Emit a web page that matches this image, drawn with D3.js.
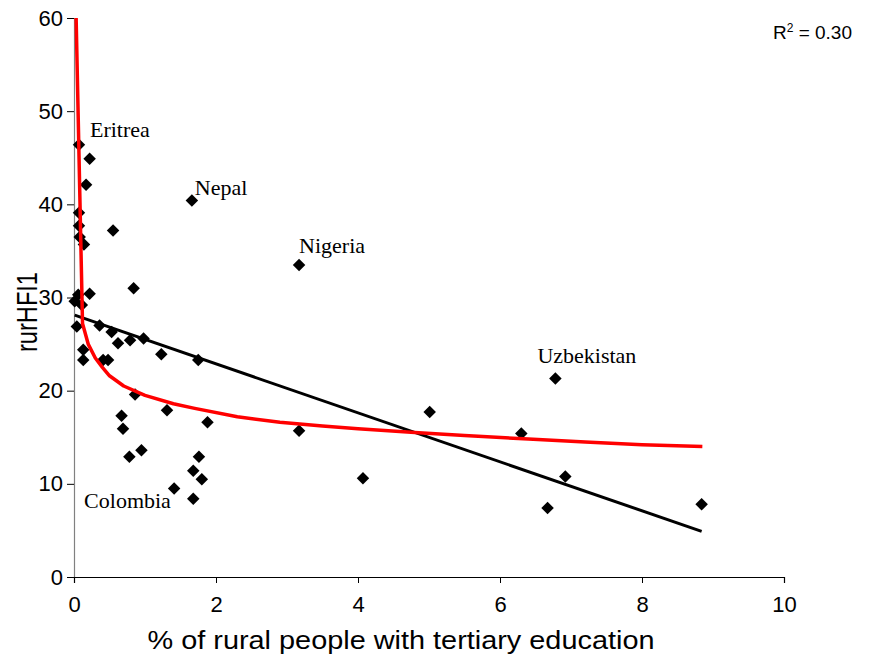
<!DOCTYPE html>
<html><head><meta charset="utf-8">
<script src="https://cdn.jsdelivr.net/npm/d3@7"></script>
<style>body{margin:0;background:#fff}svg{display:block}</style>
</head><body>
<svg id="chart" width="870" height="658"></svg>
<script>
// Data
const eduX = [0.07,0.22,0.17,0.07,0.07,0.08,0.14,0.55,1.66,3.17,0.84,0.22,0.06,0.01,0.11,0.04,0.36,0.53,0.62,0.79,0.98,1.23,1.75,0.13,0.13,0.41,0.48,0.86,1.31,0.67,0.69,1.88,0.78,0.95,1.76,1.68,1.80,1.41,1.68,3.17,4.07,5.01,6.30,6.78,6.92,6.67,8.84];
const hfiY = [46.4,44.9,42.1,39.1,37.7,36.5,35.7,37.2,40.4,33.5,31.0,30.4,30.3,29.6,29.2,26.9,27.0,26.3,25.1,25.4,25.6,23.9,23.3,24.4,23.3,23.3,23.3,19.6,17.9,17.3,15.9,16.6,12.9,13.6,12.9,11.4,10.5,9.5,8.4,15.7,10.6,17.7,15.4,21.3,10.8,7.4,7.8];
const labelNames = ["Eritrea","Nepal","Nigeria","Uzbekistan","Colombia"];
const labelX = [0.07,1.66,3.17,6.78,1.41];
const labelY = [46.4,40.4,33.5,21.3,9.5];
const linFitX = [0.01,8.84];
const linFitY = [28.1,4.9];
const powFitX = [0.03,0.12,0.2,0.3,0.4,0.5,0.7,1.0,1.4,1.7,2.3,2.9,3.5,4.0,4.8,5.5,6.4,7.2,8.0,8.85];
const powFitY = [60,27.2,25.0,23.5,22.5,21.6,20.5,19.5,18.6,18.1,17.2,16.6,16.2,15.9,15.5,15.2,14.8,14.5,14.2,14.0];
const xTicks = [0,2,4,6,8,10];
const yTicks = [0,10,20,30,40,50,60];
const xTitle = "% of rural people with tertiary education";
const yTitle = "rurHFI1";

const svg = d3.select("#chart");
const L=74, R=784, T=18, B=577;
const x = d3.scaleLinear().domain([0,10]).range([L,R]);
const y = d3.scaleLinear().domain([0,60]).range([B,T]);

// axes
const yAx = svg.append("g").attr("transform",`translate(${L},0)`)
  .call(d3.axisLeft(y).tickValues(yTicks).tickSize(7).tickPadding(4).tickFormat(d3.format("d")));
yAx.select(".domain").attr("stroke","#808080").attr("stroke-width",1.2);
yAx.selectAll(".tick line").attr("stroke","#000");
yAx.selectAll("text").attr("font-family","Liberation Sans, Arial, sans-serif").attr("font-size",22).attr("fill","#000");

const xAx = svg.append("g").attr("transform",`translate(0,${B})`)
  .call(d3.axisBottom(x).tickValues(xTicks).tickSize(6).tickPadding(13).tickFormat(d3.format("d")));
xAx.select(".domain").attr("stroke","#000").attr("stroke-width",1.2);
xAx.selectAll(".tick line").attr("stroke","#000");
xAx.selectAll("text").attr("font-family","Liberation Sans, Arial, sans-serif").attr("font-size",22).attr("fill","#000");

// clip
svg.append("clipPath").attr("id","clip").append("rect").attr("x",L).attr("y",T).attr("width",R-L).attr("height",B-T);

// markers
const sym = d3.symbol().type(d3.symbolSquare).size(78);
svg.append("g").selectAll("path").data(eduX.map((v,i)=>[v,hfiY[i]])).join("path")
  .attr("d",sym).attr("fill","#000")
  .attr("transform",d=>`translate(${x(d[0])},${y(d[1])}) rotate(45)`);

// linear fit
const line = d3.line().x(d=>x(d[0])).y(d=>y(d[1]));
svg.append("path").datum(linFitX.map((v,i)=>[v,linFitY[i]]))
  .attr("d",line).attr("fill","none").attr("stroke","#000").attr("stroke-width",3);

// power fit
svg.append("path").datum(powFitX.map((v,i)=>[v,powFitY[i]]))
  .attr("clip-path","url(#clip)")
  .attr("d",line).attr("fill","none").attr("stroke","#ff0000").attr("stroke-width",3.5).attr("stroke-linejoin","round");

// country labels
const lblOff = [[11,-8],[3,-6],[0,-12],[-18,-16],[-90,20]];
svg.append("g").selectAll("text").data(labelNames).join("text")
  .attr("x",(d,i)=>x(labelX[i])+lblOff[i][0])
  .attr("y",(d,i)=>y(labelY[i])+lblOff[i][1])
  .attr("font-family","Liberation Serif, Times New Roman, serif").attr("font-size",22)
  .attr("fill","#000").text(d=>d);

// titles
svg.append("text").attr("x",401).attr("y",649).attr("text-anchor","middle")
  .attr("font-family","Liberation Sans, Arial, sans-serif").attr("font-size",25)
  .attr("textLength",507).attr("lengthAdjust","spacingAndGlyphs").text(xTitle);
svg.append("text").attr("transform",`translate(37,312) rotate(-90)`).attr("text-anchor","middle")
  .attr("font-family","Liberation Sans, Arial, sans-serif").attr("font-size",29)
  .attr("textLength",80).attr("lengthAdjust","spacingAndGlyphs").text(yTitle);

// R2
const r2 = svg.append("text").attr("x",852).attr("y",39).attr("text-anchor","end")
  .attr("font-family","Liberation Sans, Arial, sans-serif").attr("font-size",19);
r2.append("tspan").text("R");
r2.append("tspan").attr("dy",-7).attr("font-size",12).text("2");
r2.append("tspan").attr("dy",7).text(" = 0.30");
</script>
</body></html>
